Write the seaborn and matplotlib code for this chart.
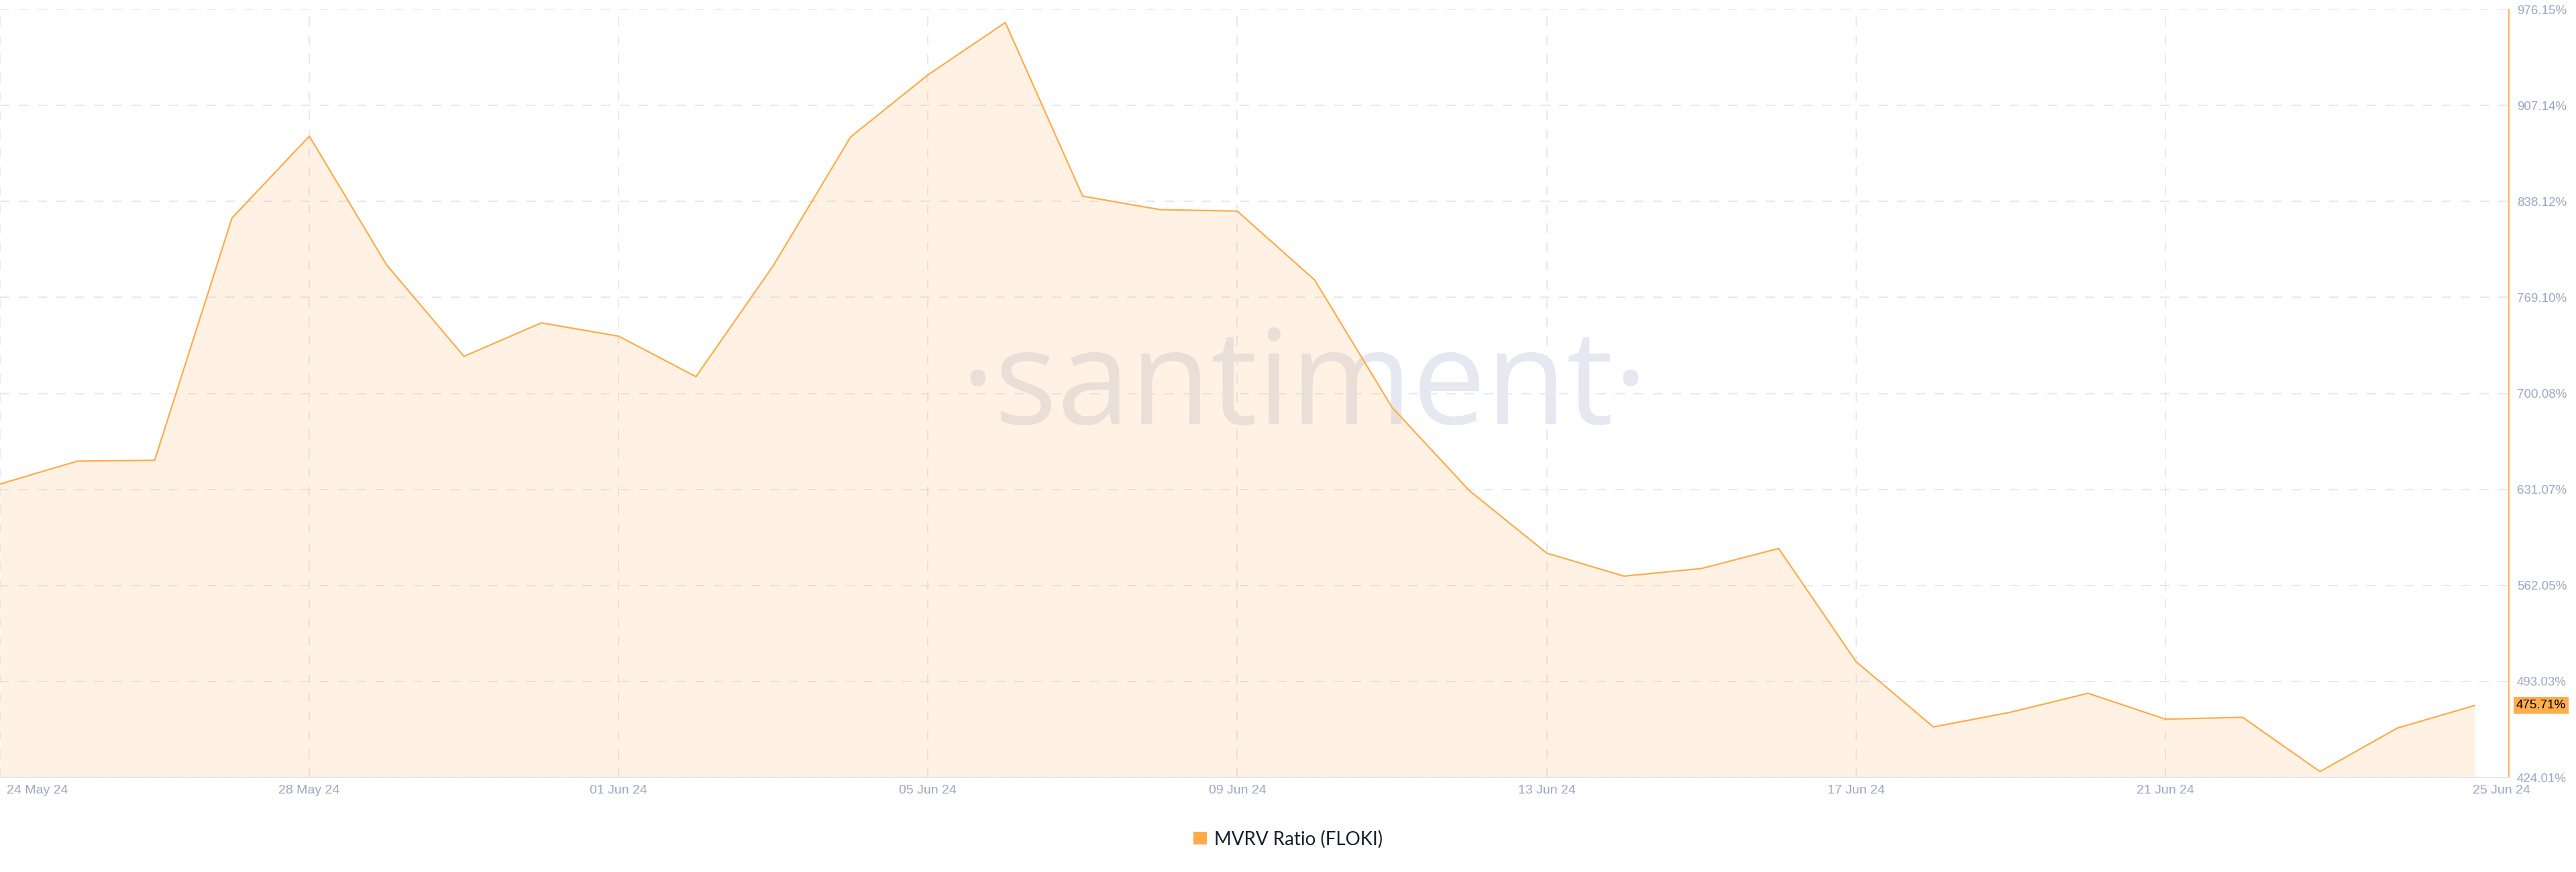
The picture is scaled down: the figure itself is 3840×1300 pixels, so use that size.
import matplotlib
matplotlib.use("Agg")
import matplotlib.pyplot as plt
import matplotlib.dates as mdates
import matplotlib.transforms as mtrans
from matplotlib.patches import Patch
import seaborn as sns
import pandas as pd
import numpy as np

# ---------------- data ----------------
start_date = "2024-05-24"
dates = pd.date_range(start_date, periods=33, freq="D")
mvrv = [634.9, 651.4, 652.0, 826.2, 885.0, 792.4, 726.7, 750.8, 741.2, 712.1,
        792.0, 884.5, 929.1, 966.7, 841.9, 832.2, 831.1, 781.6, 690.1, 630.2,
        585.3, 568.7, 574.2, 588.6, 507.3, 460.3, 470.9, 484.5, 465.9, 467.2,
        428.2, 459.5, 475.71]
y_ticks = [424.01, 493.03, 562.05, 631.07, 700.08, 769.10, 838.12, 907.14, 976.15]
x_tick_dates = pd.date_range(start_date, periods=9, freq="4D")
series_label = "MVRV Ratio (FLOKI)"
watermark = "·santiment·"

# ---------------- style ----------------
ORANGE = "#ffab4a"
FILL = "#ffab4a"
GRID = "#e6e8f1"
TICK = "#9ca6c4"

sns.set_style("white")
plt.rcParams["font.family"] = ["Liberation Sans", "DejaVu Sans"]

fig = plt.figure(figsize=(38.4, 13), dpi=100)
ax = fig.add_axes([0.0, 1 - 1159 / 1300, 3740 / 3840, (1159 - 14) / 1300])

df = pd.DataFrame({"date": dates, "value": mvrv})
sns.lineplot(data=df, x="date", y="value", ax=ax, color=ORANGE, linewidth=1.6, zorder=3)
ax.fill_between(df["date"], df["value"], y_ticks[0], color=FILL, alpha=0.15,
                linewidth=0, zorder=1)

x0 = mdates.date2num(dates[0])
ax.set_xlim(x0, x0 + 3740 / 115.28)
ax.set_ylim(y_ticks[0], y_ticks[-1])

# watermark (under grid and fill)
ax.text(1944 / 3840, 1 - 632 / 1300, watermark, transform=fig.transFigure,
        ha="center", va="baseline", fontsize=141, color="#e6e8f1",
        family=["Open Sans", "DejaVu Sans"], zorder=0.1)

# grid
ax.set_axisbelow(True)
ax.grid(True, color=GRID, linestyle=(0, (7, 7)), linewidth=1.44)

# y axis on right
ax.yaxis.tick_right()
ax.set_yticks(y_ticks)
ax.set_yticklabels([f"{v:.2f}%" for v in y_ticks])
ax.tick_params(axis="y", length=0, pad=8.5, labelsize=13.5, labelcolor=TICK)

# x axis
ax.set_xticks(mdates.date2num(x_tick_dates))
ax.set_xticklabels([d.strftime("%d %b %y") for d in x_tick_dates])
ax.tick_params(axis="x", length=0, pad=8, labelsize=14, labelcolor=TICK)
xl = ax.get_xticklabels()
xl[0].set_ha("left")
xl[0].set_transform(xl[0].get_transform() + mtrans.ScaledTranslation(10 / 100, 0, fig.dpi_scale_trans))
xl[-1].set_ha("left")
xl[-1].set_transform(xl[-1].get_transform() + mtrans.ScaledTranslation(-3 / 100, 0, fig.dpi_scale_trans))
ax.get_xgridlines()[-1].set_visible(False)
ax.set_xlabel("")
ax.set_ylabel("")

# spines
for s in ["top", "left"]:
    ax.spines[s].set_visible(False)
ax.spines["right"].set_color(ORANGE)
ax.spines["right"].set_linewidth(1.3)
ax.spines["bottom"].set_color("#e1e4ef")
ax.spines["bottom"].set_linewidth(1.2)

# current value tag
tr = mtrans.blended_transform_factory(ax.transAxes, ax.transData)
ax.text(1 + 11 / 3740, mvrv[-1], f"{mvrv[-1]:.2f}%", transform=tr, ha="left", va="center",
        fontsize=13.5, color="black", clip_on=False, zorder=5,
        bbox=dict(boxstyle="square,pad=0.22", facecolor="#ffad4d", edgecolor="none"))

# legend
handles = [Patch(facecolor=ORANGE, edgecolor="none", label=series_label)]
fig.legend(handles=handles, loc="center", bbox_to_anchor=(0.5, 1 - 1251 / 1300),
           frameon=False, handlelength=0.7, handleheight=0.7,
           handletextpad=0.4, prop={"family": ["Lato", "DejaVu Sans"], "size": 20},
           labelcolor="#1b1d2e")

fig.savefig("out.png", dpi=100, facecolor="white")
